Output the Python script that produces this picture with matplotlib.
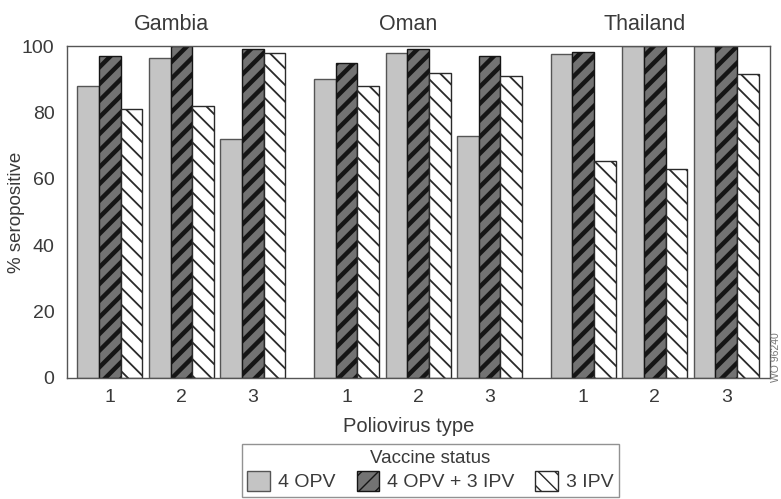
import matplotlib
matplotlib.use("Agg")
import matplotlib.pyplot as plt
import numpy as np
from matplotlib.patches import Patch

plt.rcParams['font.family'] = ['Liberation Sans', 'DejaVu Sans']

countries = ["Gambia", "Oman", "Thailand"]
types = ["1", "2", "3"]
series = ["4 OPV", "4 OPV + 3 IPV", "3 IPV"]
opv4 = [88, 96.5, 72, 90, 98, 73, 97.5, 100, 100]
opv4_ipv3 = [97, 100, 99, 95, 99, 97, 98.3, 100, 100]
ipv3 = [81, 82, 98, 88, 92, 91, 65.5, 63, 91.5]

txt = '#3a3a3a'
fig = plt.figure(figsize=(7.81, 4.99), dpi=100)
ax = fig.add_axes([0.0858, 0.2425, 0.9, 0.665])

group_gap = 0.31
pos = []
for g in range(len(countries)):
    for t in range(len(types)):
        pos.append(g * (len(types) + group_gap) + t)
pos = np.array(pos)
w = 0.303

styles = [
    dict(fc='#c4c4c4', hatch=None, hlw=1.0, ec='#555555'),
    dict(fc='#737373', hatch='//', hlw=3.2, ec='#151515'),
    dict(fc='white', hatch='\\\\', hlw=1.3, ec='#2a2a2a'),
]
data = [opv4, opv4_ipv3, ipv3]
handles = []
for i, (vals, st) in enumerate(zip(data, styles)):
    with plt.rc_context({'hatch.linewidth': st['hlw']}):
        bars = ax.bar(pos + (i - 1) * w, vals, width=w, facecolor=st['fc'],
                      edgecolor=st['ec'], hatch=st['hatch'], linewidth=1.0)
        for b in bars:
            if hasattr(b, 'set_hatch_linewidth'):
                b.set_hatch_linewidth(st['hlw'])
        h = Patch(facecolor=st['fc'], edgecolor=st['ec'], hatch=st['hatch'], linewidth=1.0)
        if hasattr(h, 'set_hatch_linewidth'):
            h.set_hatch_linewidth(st['hlw'])
        handles.append(h)

ax.set_xlim(pos[0] - 0.6, pos[-1] + 0.61)
ax.set_ylim(0, 100)
ax.set_yticks([0, 20, 40, 60, 80, 100])
ax.set_xticks(pos)
ax.set_xticklabels(types * len(countries))
ax.tick_params(axis='both', length=0, labelsize=14, colors=txt)
ax.tick_params(axis='x', pad=8)
ax.tick_params(axis='y', pad=9)
for s in ax.spines.values():
    s.set_color('#555555')
    s.set_linewidth(1.0)

ax.set_xlabel("Poliovirus type", fontsize=14.5, color=txt)
ax.xaxis.set_label_coords((409 - 67) / 703, -0.118)
ax.set_ylabel("% seropositive", fontsize=13.5, color=txt)
ax.yaxis.set_label_coords(-0.06, 0.5)

for g, c in enumerate(countries):
    xc = pos[g * 3 + 1] - 0.14
    ax.text(xc, 103.5, c, ha='center', va='bottom', fontsize=15.5, color=txt)

fig.text(0.9935, 0.285, "WO 96240", rotation=90, fontsize=7.5, color='#777777',
         ha='center', va='center')

leg = fig.legend(handles, series, title="Vaccine status", loc='upper center',
                 bbox_to_anchor=(0.551, 0.1105), ncol=3, fontsize=14,
                 title_fontsize=13.5, frameon=True, fancybox=False,
                 handlelength=1.15, handleheight=1.2, handletextpad=0.4,
                 columnspacing=1.1, borderpad=0.3, labelspacing=0.2,
                 borderaxespad=0.0)
leg.get_frame().set_edgecolor('#777777')
leg.get_frame().set_linewidth(1.0)
for t in leg.get_texts():
    t.set_color(txt)
leg.get_title().set_color(txt)

fig.savefig("out.png", dpi=100)
